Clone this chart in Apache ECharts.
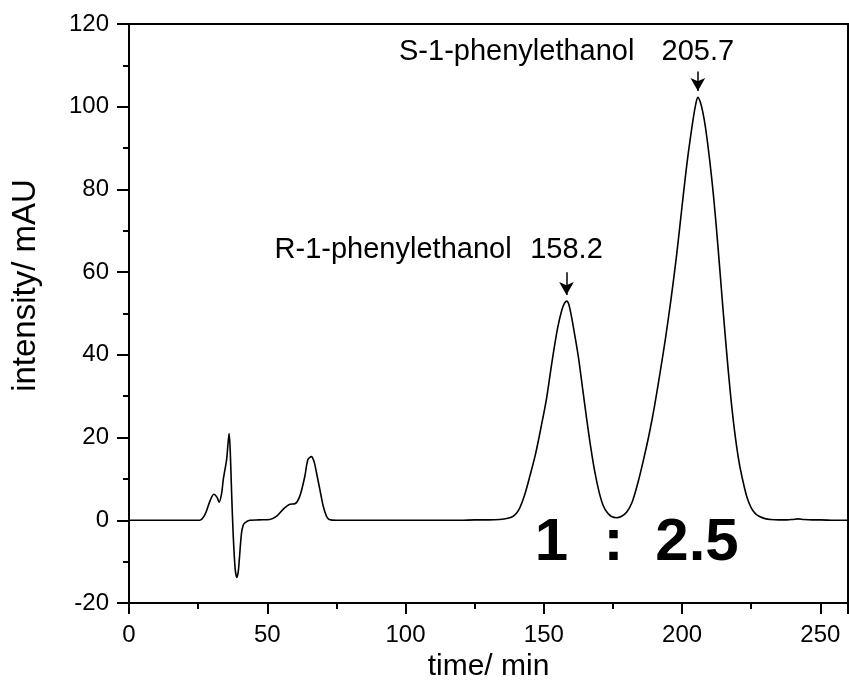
<!DOCTYPE html>
<html>
<head>
<meta charset="utf-8">
<script src="https://cdn.jsdelivr.net/npm/echarts@6/dist/echarts.min.js"></script>
<style>
html,body{margin:0;padding:0;background:#fff;}
#chart{width:849px;height:693px;}
</style>
</head>
<body>
<div id="chart"></div>
<script>
// ---- data ----
const time = [0,5,10,15,20,24,25.6,27.5,29.3,30.7,31.8,32.6,33.5,34.1,35.3,35.8,36.2,36.6,37.1,37.7,38.4,39.0,39.5,39.9,40.7,41.3,41.9,43.7,47,50.9,53.4,55.8,58.2,60,61.8,63.6,64.7,66.0,67.0,67.8,69,70.2,71.4,72.4,75,80,90,100,110,120,125,130,134,137,139,141,143,145,147,149,151,153,155,156.5,157.5,158.2,159,160,161,162.5,164,165.5,167,168.5,170,171.5,173,174.5,176.3,178,180,182,184,186,188,190,192,194,196,198,200,202,204,205,205.7,206.5,207.5,208.5,210,211.5,213,214.5,216,217.5,219,220.5,222,223.5,225,226.5,228,230,232,235,238,240,242,244,247,250,255,260];
const intensity = [0,0,0,0,0,0,0,1.4,4.7,6.3,5.6,4.4,6.5,9.9,14.7,18.5,21,17,6.7,-3.8,-11.8,-13.8,-12.5,-9.4,-3,-1.2,-0.6,0,0.1,0.2,1,2.7,3.9,4,5.9,10.7,14.7,15.4,14,11.5,7.5,3.5,1,0.2,0,0,0,0,0,0,0.1,0.1,0.2,0.5,1,2.6,6,10.8,16,22.5,29.5,38.5,46.5,50.8,52.5,53,52.3,49.3,45.5,39.5,32,24.5,17.5,11.5,6.8,3.5,1.8,0.9,0.6,0.9,2,4.5,9,14.5,20.5,27.5,35.5,44,53.5,64,76,87.5,97,100.8,102.3,101.3,98.7,94.8,87,77.5,66,53.5,41.5,30.5,21.5,14.5,9.5,5.5,3,1.6,0.9,0.4,0.2,0.1,0.1,0.2,0.35,0.2,0.1,0.1,0,0];
const xTicks = [0,50,100,150,200,250];
const yTicks = [-20,0,20,40,60,80,100,120];
const peakNames = ['R-1-phenylethanol','S-1-phenylethanol'];
const peakTimes = [158.2,205.7];
const peakHeights = [53,102.3];
const ratioParts = ['1',':','2.5'];

const FONT = "'Liberation Sans', Arial, sans-serif";
const curve = time.map((t,i)=>[t,intensity[i]]);

const chart = echarts.init(document.getElementById('chart'), null, {renderer:'canvas'});

const textPoint = (coord, text, size, weight) => ({
  coord: coord, value: text, symbol: 'circle', symbolSize: 0,
  label: {show:true, position:'inside', formatter: text, color:'#000', fontSize:size, fontWeight:weight||'normal', fontFamily:FONT}
});

const option = {
  animation:false,
  backgroundColor:'#fff',
  grid:{left:129,right:1,top:24,bottom:90,show:true,borderColor:'#000',borderWidth:2,backgroundColor:'transparent'},
  xAxis:{
    type:'value', min:xTicks[0], max:260, interval:50,
    name:'time/ min', nameLocation:'middle', nameGap:49,
    nameTextStyle:{fontSize:30,color:'#000',fontFamily:FONT},
    axisLine:{onZero:false,lineStyle:{color:'#000',width:2}},
    axisTick:{show:true,inside:false,length:11,lineStyle:{color:'#000',width:2}},
    minorTick:{show:true,splitNumber:2,length:6,lineStyle:{color:'#000',width:2}},
    axisLabel:{fontSize:24,color:'#000',fontFamily:FONT,margin:20,showMaxLabel:false},
    splitLine:{show:false}
  },
  yAxis:{
    type:'value', min:yTicks[0], max:yTicks[yTicks.length-1], interval:20,
    name:'intensity/ mAU', nameLocation:'middle', nameGap:87,
    nameTextStyle:{fontSize:33,color:'#000',fontFamily:FONT,padding:[0,0,0,56]},
    axisLine:{onZero:false,lineStyle:{color:'#000',width:2}},
    axisTick:{show:true,inside:false,length:12,lineStyle:{color:'#000',width:2}},
    minorTick:{show:true,splitNumber:2,length:6,lineStyle:{color:'#000',width:2}},
    axisLabel:{fontSize:24,color:'#000',fontFamily:FONT,margin:20},
    splitLine:{show:false}
  },
  series:[{
    type:'line', data:curve, showSymbol:false, smooth:0.3,
    lineStyle:{color:'#000',width:1.6},
    markLine:{
      silent:true, symbol:['none','arrow'], symbolSize:[11,13],
      label:{show:false},
      lineStyle:{color:'#000',width:1.5,type:'solid'},
      data:[
        [{coord:[peakTimes[0],60]},{coord:[peakTimes[0],peakHeights[0]+1.5]}],
        [{coord:[peakTimes[1],108.5]},{coord:[peakTimes[1],peakHeights[1]+1.5]}]
      ]
    },
    markPoint:{
      silent:true,
      data:[
        textPoint([95.5,65.4], peakNames[0], 29),
        textPoint([peakTimes[0],65.4], String(peakTimes[0]), 29),
        textPoint([140.2,113.3], peakNames[1], 29),
        textPoint([peakTimes[1],113.3], String(peakTimes[1]), 29),
        textPoint([152.8,-5.5], ratioParts[0], 60, 'bold'),
        textPoint([175.2,-5.5], ratioParts[1], 60, 'bold'),
        textPoint([205.4,-5.5], ratioParts[2], 60, 'bold')
      ]
    }
  }]
};
chart.setOption(option);
</script>
</body>
</html>
